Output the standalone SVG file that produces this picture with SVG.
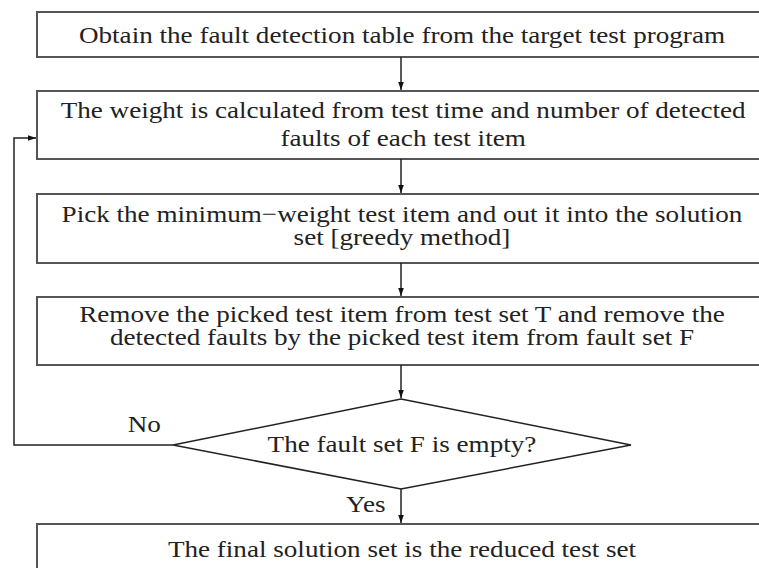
<svg xmlns="http://www.w3.org/2000/svg" width="759" height="568" viewBox="0 0 759 568">
<defs>
<style>
.box{fill:#fff;stroke:#555;stroke-width:2}
.t{font-family:"Liberation Serif","Times New Roman",serif;font-size:24px;fill:#222;text-anchor:middle}
.c{fill:none;stroke:#222;stroke-width:1.5}
</style>
<marker id="ah" viewBox="0 0 10 10" refX="10" refY="5" markerWidth="8" markerHeight="8" markerUnits="userSpaceOnUse" orient="auto">
<path d="M0,1.5 L10,5 L0,8.5 Z" fill="#111"/>
</marker>
</defs>
<rect width="759" height="568" fill="#fff"/>
<g id="n1"><rect class="box" x="37" y="12" width="726" height="45"/><text class="t" transform="matrix(1.13 0 0 1 -52.26 0)" x="402" y="43">Obtain the fault detection table from the target test program</text></g>
<g id="n2"><rect class="box" x="37" y="91" width="726" height="68"/><text class="t" transform="matrix(1.13 0 0 1 -52.26 0)" x="403" y="118">The weight is calculated from test time and number of detected</text><text class="t" transform="matrix(1.13 0 0 1 -52.26 0)" x="403" y="146">faults of each test item</text></g>
<g id="n3"><rect class="box" x="37" y="194" width="726" height="69"/><text class="t" transform="matrix(1.13 0 0 1 -52.26 0)" x="402" y="222">Pick the minimum−weight test item and out it into the solution</text><text class="t" transform="matrix(1.13 0 0 1 -52.26 0)" x="402" y="245">set [greedy method]</text></g>
<g id="n4"><rect class="box" x="37" y="297" width="726" height="68"/><text class="t" transform="matrix(1.13 0 0 1 -52.26 0)" x="402" y="322">Remove the picked test item from test set T and remove the</text><text class="t" transform="matrix(1.13 0 0 1 -52.26 0)" x="402" y="345">detected faults by the picked test item from fault set F</text></g>
<g id="n5"><polygon points="401,399 631,445 401,489 173,445" fill="#fff" stroke="#222" stroke-width="1.5"/><text class="t" transform="matrix(1.13 0 0 1 -52.26 0)" x="402" y="452">The fault set F is empty?</text></g>
<g id="n6"><rect class="box" x="37" y="524" width="726" height="60"/><text class="t" transform="matrix(1.13 0 0 1 -52.26 0)" x="402" y="557">The final solution set is the reduced test set</text></g>
<g id="edges">
<line class="c" x1="401" y1="57" x2="401" y2="90" marker-end="url(#ah)"/>
<line class="c" x1="401" y1="159" x2="401" y2="193" marker-end="url(#ah)"/>
<line class="c" x1="401" y1="263" x2="401" y2="296" marker-end="url(#ah)"/>
<line class="c" x1="401" y1="365" x2="401" y2="398" marker-end="url(#ah)"/>
<line class="c" x1="401" y1="489" x2="401" y2="523" marker-end="url(#ah)"/>
<polyline class="c" points="173,445 14,445 14,138 36,138" marker-end="url(#ah)"/>
<text class="t" transform="matrix(1.13 0 0 1 -52.26 0)" x="174" y="432">No</text>
<text class="t" transform="matrix(1.13 0 0 1 -52.26 0)" x="370" y="512">Yes</text>
</g>
</svg>
